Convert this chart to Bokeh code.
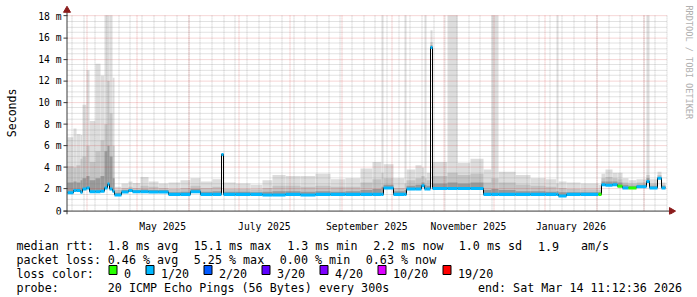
from datetime import datetime, timedelta
from math import pi, floor
from bokeh.plotting import figure
from bokeh.models import Range1d, FixedTicker
from bokeh.layouts import column
from bokeh.embed import file_html
from bokeh.resources import INLINE
from bokeh.core.properties import value

# ---------------- data ----------------
START = datetime(2025, 3, 20, 9, 36)   # left edge of the graph
SPAN_DAYS = 360.0                       # graph spans 360 days
Y_TOP = 18.09                           # top of graph (ms)

# bucket start, in days since START
bucket_start_day = [0.0, 3.6, 5.4, 7.8, 9.0, 11.4, 13.2, 16.8, 19.8, 22.2,
                    24.0, 25.2, 27.0, 28.2, 32.4, 36.6, 39.0, 43.8, 48.6, 54.6,
                    60.6, 67.8, 73.8, 79.8, 87.0, 92.4, 93.6, 100.8, 109.8, 117.0,
                    123.0, 130.8, 139.8, 148.8, 157.8, 166.8, 175.8, 183.0, 188.4, 189.6,
                    195.6, 202.2, 203.4, 208.8, 212.4, 214.2, 215.4, 217.8, 219.0, 228.0,
                    234.0, 241.8, 249.6, 254.4, 258.6, 268.8, 277.8, 286.8, 293.4, 294.6,
                    299.4, 307.8, 318.6, 320.4, 322.8, 327.0, 330.0, 333.0, 336.6, 341.4,
                    347.4, 349.2, 354.0, 356.4]
data_end_day = 358.8

median_ms = [1.65, 1.87, 1.85, 1.7, 2.0, 2.1, 1.75, 1.75, 1.8, 2.1,
             2.45, 2.0, 1.8, 1.45, 1.72, 1.85, 1.75, 1.75, 1.72, 1.72,
             1.5, 1.5, 1.75, 1.5, 1.5, 5.2, 1.5, 1.5, 1.5, 1.45,
             1.45, 1.5, 1.45, 1.5, 1.5, 1.5, 1.5, 1.5, 1.5, 2.1,
             1.5, 1.5, 2.0, 2.0, 2.3, 2.0, 2.0, 15.1, 2.05, 2.05,
             2.05, 2.05, 1.5, 1.5, 1.5, 1.5, 1.5, 1.5, 1.5, 1.35,
             1.5, 1.5, 1.5, 2.4, 2.35, 2.4, 2.25, 2.1, 2.1, 2.2,
             2.7, 2.1, 3.0, 2.1]

smoke_top_ms = [6.8, 7.6, 7.1, 7.0, 9.8, 13.0, 8.3, 13.6, 12.5, 18.09,
                18.09, 18.09, 12.3, 2.2, 2.5, 2.7, 2.55, 3.1, 2.7, 2.5,
                2.6, 2.8, 3.0, 2.7, 2.9, 5.3, 2.6, 2.5, 2.4, 2.8,
                3.3, 3.2, 3.2, 3.4, 2.9, 3.0, 3.9, 4.5, 18.09, 4.3,
                3.0, 18.09, 3.8, 4.2, 4.0, 18.09, 3.5, 16.7, 4.5, 18.09,
                4.4, 4.8, 3.8, 18.09, 3.6, 3.3, 3.0, 2.9, 18.09, 2.7,
                2.6, 2.5, 2.4, 3.4, 3.8, 3.5, 3.5, 3.0, 2.8, 2.9,
                18.09, 2.9, 3.6, 2.6]

smoke_mid_ms = [4.1, 4.0, 4.2, 4.8, 5.0, 6.0, 4.5, 5.5, 6.5, 8.0,
                12.0, 9.0, 6.0, 1.9, 2.1, 2.2, 2.1, 2.3, 2.2, 2.1,
                2.0, 2.1, 2.3, 2.1, 2.2, 5.25, 2.0, 2.0, 1.95, 2.1,
                2.3, 2.3, 2.2, 2.3, 2.2, 2.2, 2.6, 2.9, 3.5, 3.0,
                2.1, 2.5, 2.8, 3.0, 3.2, 3.0, 2.8, 15.6, 3.2, 3.5,
                3.3, 3.4, 2.6, 3.0, 2.6, 2.4, 2.3, 2.2, 2.5, 2.1,
                2.0, 1.95, 1.9, 3.0, 3.1, 3.0, 2.9, 2.6, 2.5, 2.6,
                3.3, 2.5, 3.3, 2.4]

smoke_low_ms = [2.6, 2.7, 2.6, 2.8, 3.0, 3.2, 2.8, 3.0, 3.2, 5.5,
                6.0, 5.0, 3.0, 1.65, 1.9, 2.0, 1.9, 1.95, 1.9, 1.9,
                1.7, 1.75, 2.0, 1.75, 1.8, 5.2, 1.75, 1.75, 1.7, 1.75,
                1.8, 1.8, 1.75, 1.8, 1.75, 1.8, 1.9, 2.0, 2.2, 2.4,
                1.8, 1.9, 2.3, 2.4, 2.6, 2.4, 2.3, 15.3, 2.5, 2.6,
                2.5, 2.6, 1.9, 2.0, 1.9, 1.8, 1.8, 1.75, 1.8, 1.7,
                1.7, 1.7, 1.7, 2.7, 2.7, 2.7, 2.6, 2.4, 2.3, 2.4,
                3.0, 2.3, 3.1, 2.3]

loss_class = ["1/20"] * 62 + ["0", "1/20", "1/20", "1/20", "0", "1/20", "0",
                              "1/20", "1/20", "1/20", "1/20", "1/20"]

loss_labels = ["0", "1/20", "2/20", "3/20", "4/20", "10/20", "19/20"]
loss_colors = ["#26ff00", "#00b8ff", "#0059ff", "#5e00ff", "#7e00ff", "#dd00ff", "#ff0000"]

y_ticks = [0, 2, 4, 6, 8, 10, 12, 14, 16, 18]
y_tick_labels = ["0", "2 m", "4 m", "6 m", "8 m", "10 m", "12 m", "14 m", "16 m", "18 m"]
y_title = "Seconds"
x_label_months = [(2025, 5), (2025, 7), (2025, 9), (2025, 11), (2026, 1)]
x_label_text = ["May 2025", "July 2025", "September 2025", "November 2025", "January 2026"]

rtt_title = "median rtt:"
rtt_stats = ["1.8 ms avg", "15.1 ms max", "1.3 ms min", "2.2 ms now", "1.0 ms sd", "1.9", "am/s"]
loss_title = "packet loss:"
loss_stats = ["0.46 % avg", "5.25 % max", "0.00 % min", "0.63 % now"]
color_title = "loss color:"
probe_title = "probe:"
probe_text = "20 ICMP Echo Pings (56 Bytes) every 300s"
end_text = "end: Sat Mar 14 11:12:36 2026"
credit_text = "RRDTOOL / TOBI OETIKER"

# ---------------- helpers ----------------
def day_of(dt):
    return round((dt - START).total_seconds() / 86400.0, 4)

def next_month(y, m):
    return (y + 1, 1) if m == 12 else (y, m + 1)

# page geometry (pixels)
W, H_GRAPH, H_LEGEND = 697, 234, 63
GX0, GY0 = 67, 215          # canvas position of (day 0, 0 ms)
PX_PER_DAY = 600.0 / SPAN_DAYS
PX_PER_MS = 200.0 / Y_TOP
MONO = "DejaVu Sans Mono"

def dx(px):  # pixel offset -> days
    return px / PX_PER_DAY

def dy(px):  # pixel offset -> ms
    return px / PX_PER_MS

def crisp_x(d):  # put a 1px grid line on a pixel centre
    return dx(floor(GX0 + d * PX_PER_DAY) + 0.5 - GX0)

def crisp_y(v):
    return dy(GY0 - (floor(GY0 - v * PX_PER_MS) + 0.5))

month_starts = []
y, m = 2025, 4
while day_of(datetime(y, m, 1)) < SPAN_DAYS:
    month_starts.append(day_of(datetime(y, m, 1)))
    y, m = next_month(y, m)

week_lines = []
d = datetime(2025, 3, 23)
while day_of(d) < SPAN_DAYS:
    week_lines.append(day_of(d))
    d += timedelta(days=7)

label_pos = []
for (yy, mm) in x_label_months:
    ny, nm = next_month(yy, mm)
    label_pos.append(round((day_of(datetime(yy, mm, 1)) + day_of(datetime(ny, nm, 1))) / 2, 4))

# ---------------- graph figure ----------------
p = figure(width=W, height=H_GRAPH, title=None,
           x_range=Range1d(dx(-GX0), dx(W - GX0)),
           y_range=Range1d(dy(-4), dy(GY0)),
           y_axis_location=None,
           output_backend="svg", toolbar_location=None,
           min_border_left=0, min_border_right=0, min_border_top=0, min_border_bottom=15)
p.outline_line_color = None
p.background_fill_color = "white"
p.border_fill_color = "white"
p.xgrid.visible = False
p.ygrid.visible = False

rights = bucket_start_day[1:] + [data_end_day]
band = 0.14
loss_fill = [loss_colors[loss_labels.index(c)] for c in loss_class]

# smoke
p.quad(left=bucket_start_day, right=rights, bottom=median_ms, top=smoke_top_ms,
       fill_color="#dddddd", line_color=None)
p.quad(left=bucket_start_day, right=rights, bottom=median_ms, top=smoke_mid_ms,
       fill_color="#c4c4c4", line_color=None)
p.quad(left=bucket_start_day, right=rights, bottom=median_ms, top=smoke_low_ms,
       fill_color="#9a9a9a", line_color=None)

# grid (drawn over the smoke, like rrdtool)
minor_y = [crisp_y(v / 2) for v in range(1, 37) if v % 4 != 0]
major_y = [crisp_y(t) for t in y_ticks if t > 0]
wk = [crisp_x(v) for v in week_lines]
ms = [crisp_x(v) for v in month_starts]
p.segment(x0=wk, y0=[0] * len(wk), x1=wk, y1=[Y_TOP] * len(wk),
          line_color="#7f7f7f", line_alpha=0.45, line_width=1, line_dash="1 1")
p.segment(x0=[0] * len(minor_y), y0=minor_y, x1=[SPAN_DAYS] * len(minor_y), y1=minor_y,
          line_color="#7f7f7f", line_alpha=0.45, line_width=1, line_dash="1 1")
p.segment(x0=ms, y0=[0] * len(ms), x1=ms, y1=[Y_TOP] * len(ms),
          line_color="#d03030", line_alpha=0.4, line_width=1, line_dash="1 1")
p.segment(x0=[0] * len(major_y), y0=major_y, x1=[SPAN_DAYS] * len(major_y), y1=major_y,
          line_color="#d03030", line_alpha=0.4, line_width=1, line_dash="1 1")

# median line + loss colour band
p.step(x=bucket_start_day + [data_end_day], y=median_ms + [median_ms[-1]], mode="after",
       line_color="#000000", line_width=1)
p.quad(left=bucket_start_day, right=rights,
       bottom=[v - band for v in median_ms], top=[v + band for v in median_ms],
       fill_color=loss_fill, line_color=None)

# axis lines, y ticks and arrows
ax_x = dx(-0.5)
ax_y = dy(-0.5)
p.segment(x0=[dx(-4), ax_x], y0=[ax_y, dy(-4)],
          x1=[SPAN_DAYS + dx(3), ax_x], y1=[ax_y, Y_TOP + dy(3)],
          line_color="#3a3a3a", line_width=1)
p.segment(x0=[dx(-4)] * len(y_ticks), y0=[crisp_y(t) for t in y_ticks],
          x1=[0] * len(y_ticks), y1=[crisp_y(t) for t in y_ticks],
          line_color="#3a3a3a", line_width=1)
p.scatter(x=[ax_x], y=[Y_TOP + dy(5)], marker="triangle", size=7,
          fill_color="#8b1c1c", line_color="#8b1c1c")
p.scatter(x=[SPAN_DAYS + dx(4)], y=[ax_y], marker="triangle", size=7, angle=-pi / 2,
          fill_color="#8b1c1c", line_color="#8b1c1c")

# y tick labels and title
p.text(x=[dx(-6)] * len(y_ticks), y=y_ticks, text=y_tick_labels,
       text_font=value(MONO), text_font_size=value("9.7px"), text_color="#000000",
       text_align="right", text_baseline="middle")
p.text(x=[dx(11 - GX0)], y=[Y_TOP / 2], text=[y_title], angle=pi / 2,
       text_font=value(MONO), text_font_size=value("11.6px"), text_color="#000000",
       text_align="center", text_baseline="middle")
p.text(x=[dx(688.5 - GX0)], y=[dy(GY0 - 5)], text=[credit_text], angle=-pi / 2,
       text_font=value(MONO), text_font_size=value("8.6px"), text_color="#b0b0b0",
       text_align="left", text_baseline="middle")

# x axis (month labels centred in their month)
p.xaxis.ticker = FixedTicker(ticks=label_pos)
p.xaxis.major_label_overrides = {t: s for t, s in zip(label_pos, x_label_text)}
p.xaxis.axis_line_color = None
p.xaxis.major_tick_line_color = None
p.xaxis.minor_tick_line_color = None
p.xaxis.major_label_standoff = 0
p.xaxis.major_label_text_font = MONO
p.xaxis.major_label_text_font_size = "9.7px"
p.xaxis.major_label_text_color = "#000000"

# ---------------- legend figure ----------------
q = figure(width=W, height=H_LEGEND, x_range=Range1d(0, W), y_range=Range1d(H_GRAPH + H_LEGEND, H_GRAPH),
           output_backend="svg", toolbar_location=None, x_axis_location=None, y_axis_location=None,
           min_border=0, title=None)
q.outline_line_color = None
q.xgrid.visible = False
q.ygrid.visible = False
q.background_fill_color = "white"
q.border_fill_color = "white"

row_base = [245.5, 259.0, 273.0, 287.0]
txt_kw = dict(text_font=value(MONO), text_font_size=value("11.7px"), text_color="#000000",
              text_baseline="alphabetic", text_align="left")

row1_x = [16, 107.3, 193.3, 286.7, 372.7, 458.3, 537.5, 580.5]
q.text(x=row1_x, y=[row_base[0]] * len(row1_x), text=[rtt_title] + rtt_stats, **txt_kw)
row2_x = [16, 107.3, 193.3, 279.3, 365.3]
q.text(x=row2_x, y=[row_base[1]] * len(row2_x), text=[loss_title] + loss_stats, **txt_kw)

box_left = [108.5, 145.5, 203.5, 261.5, 319.5, 377.5, 442.5]
q.rect(x=[b + 4 for b in box_left], y=[269.5] * 7, width=8, height=9,
       fill_color=loss_colors, line_color="#000000", line_width=1)
q.text(x=[16] + [b + 15 for b in box_left], y=[row_base[2]] * 8, text=[color_title] + loss_labels, **txt_kw)

q.text(x=[16, 107.3], y=[row_base[3]] * 2, text=[probe_title, probe_text], **txt_kw)
kw_r = dict(txt_kw)
kw_r["text_align"] = "right"
q.text(x=[681.5], y=[row_base[3]], text=[end_text], **kw_r)

layout = column(p, q, spacing=0)
open("out.html", "w").write(file_html(layout, INLINE))
